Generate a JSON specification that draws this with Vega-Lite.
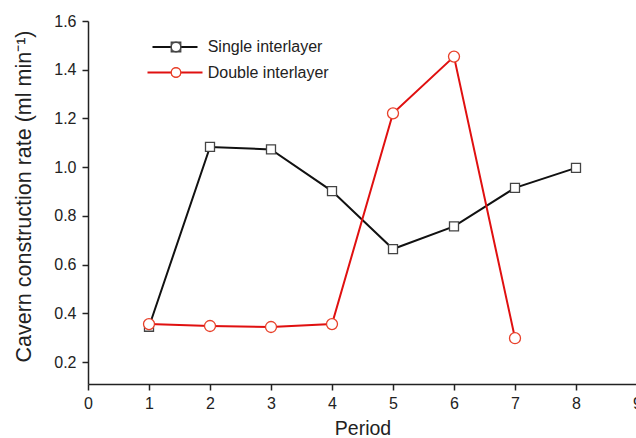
{
  "$schema": "https://vega.github.io/schema/vega-lite/v6.json",
  "width": 549,
  "height": 363,
  "autosize": {"type": "none"},
  "padding": {"left": 88, "top": 21, "right": 0, "bottom": 54},
  "background": "white",
  "config": {
    "view": {"stroke": null},
    "font": "Liberation Sans",
    "axis": {
      "grid": false,
      "domainColor": "#222",
      "tickColor": "#222",
      "labelColor": "#222",
      "titleColor": "#222",
      "labelFontSize": 16,
      "titleFontWeight": "normal",
      "domainWidth": 1.5,
      "tickWidth": 1.5,
      "tickSize": 6
    }
  },
  "data": {
    "values": [
      {"period": 1, "rate": 0.345, "series": "Single interlayer"},
      {"period": 2, "rate": 1.083, "series": "Single interlayer"},
      {"period": 3, "rate": 1.073, "series": "Single interlayer"},
      {"period": 4, "rate": 0.902, "series": "Single interlayer"},
      {"period": 5, "rate": 0.664, "series": "Single interlayer"},
      {"period": 6, "rate": 0.757, "series": "Single interlayer"},
      {"period": 7, "rate": 0.915, "series": "Single interlayer"},
      {"period": 8, "rate": 0.997, "series": "Single interlayer"},
      {"period": 1, "rate": 0.356, "series": "Double interlayer"},
      {"period": 2, "rate": 0.348, "series": "Double interlayer"},
      {"period": 3, "rate": 0.344, "series": "Double interlayer"},
      {"period": 4, "rate": 0.356, "series": "Double interlayer"},
      {"period": 5, "rate": 1.221, "series": "Double interlayer"},
      {"period": 6, "rate": 1.454, "series": "Double interlayer"},
      {"period": 7, "rate": 0.298, "series": "Double interlayer"}
    ]
  },
  "encoding": {
    "x": {
      "field": "period",
      "type": "quantitative",
      "scale": {"domain": [0, 9], "nice": false, "zero": false},
      "axis": {
        "title": "Period",
        "titleFontSize": 19.5,
        "values": [0, 1, 2, 3, 4, 5, 6, 7, 8, 9],
        "labelFlush": false,
        "labelOverlap": false,
        "labelPadding": 5,
        "titlePadding": 8
      }
    },
    "y": {
      "field": "rate",
      "type": "quantitative",
      "scale": {"domain": [0.11, 1.6], "nice": false, "zero": false},
      "axis": {
        "title": "Cavern construction rate (ml min⁻¹)",
        "titleFontSize": 21.5,
        "titleY": 175,
        "values": [0.2, 0.4, 0.6, 0.8, 1.0, 1.2, 1.4, 1.6],
        "format": ".1f",
        "labelPadding": 6,
        "titlePadding": 18
      }
    }
  },
  "layer": [
    {
      "mark": {"type": "line", "strokeWidth": 2},
      "encoding": {
        "color": {
          "field": "series",
          "type": "nominal",
          "scale": {"domain": ["Single interlayer", "Double interlayer"], "range": ["#111111", "#e01010"]},
          "legend": {
            "orient": "top-left",
            "offset": 18,
            "padding": 0,
            "title": null,
            "labelFontSize": 16,
            "labelColor": "#222",
            "labelOffset": 24.7,
            "rowPadding": 9.5,
            "symbolType": "M-5,0H5",
            "symbolOffset": 61,
            "symbolStrokeWidth": 1.8
          }
        }
      }
    },
    {
      "mark": {"type": "point", "filled": false, "fill": "white", "opacity": 1, "strokeWidth": 1.3},
      "encoding": {
        "shape": {
          "field": "series",
          "type": "nominal",
          "scale": {"domain": ["Single interlayer", "Double interlayer"], "range": ["square", "circle"]},
          "legend": {
            "orient": "none",
            "legendX": 80,
            "legendY": 18,
            "padding": 0,
            "title": null,
            "labelFontSize": 16,
            "labelExpr": "''",
            "labelOpacity": 0,
            "rowPadding": 9.5,
            "symbolSize": 90,
            "symbolFillColor": "white",
            "symbolStrokeWidth": 1.3
          }
        },
        "stroke": {
          "field": "series",
          "type": "nominal",
          "scale": {"domain": ["Single interlayer", "Double interlayer"], "range": ["#444444", "#e8402a"]},
          "legend": {
            "orient": "none",
            "legendX": 80,
            "legendY": 18,
            "padding": 0,
            "title": null,
            "labelFontSize": 16,
            "labelExpr": "''",
            "labelOpacity": 0,
            "rowPadding": 9.5,
            "symbolSize": 90,
            "symbolFillColor": "white",
            "symbolStrokeWidth": 1.3
          }
        },
        "size": {
          "field": "series",
          "type": "nominal",
          "scale": {"domain": ["Single interlayer", "Double interlayer"], "range": [81, 121]},
          "legend": null
        }
      }
    }
  ]
}
